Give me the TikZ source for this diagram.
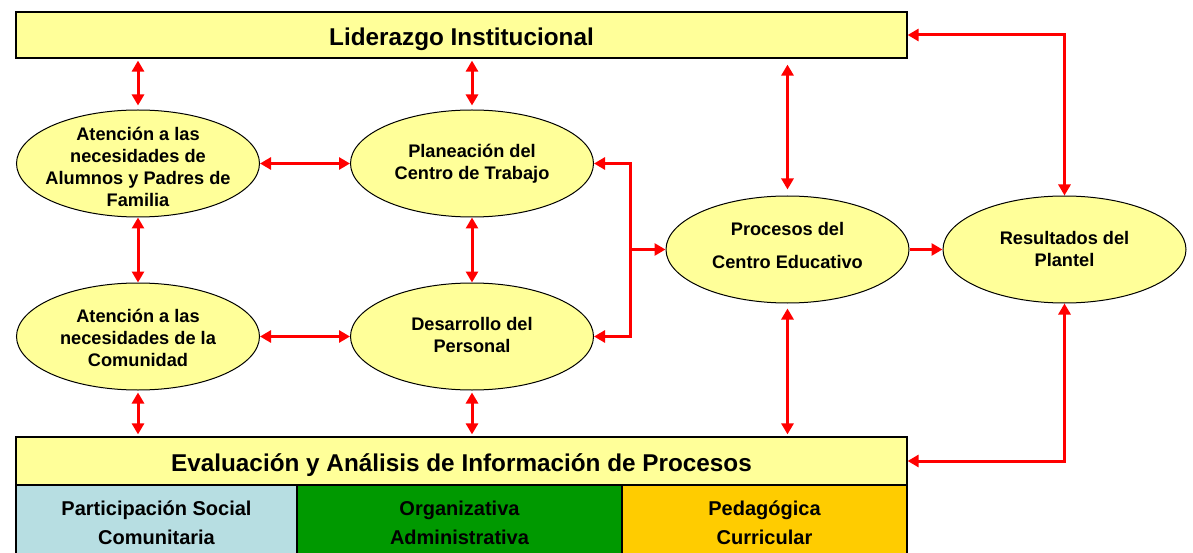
\documentclass[tikz,border=0pt]{standalone}
\usepackage{fontspec}
\setmainfont{Liberation Sans}
\usetikzlibrary{arrows.meta,shapes.geometric}
\definecolor{ylw}{HTML}{FFFF99}
\definecolor{lblue}{HTML}{B7DEE2}
\definecolor{dgreen}{HTML}{009900}
\definecolor{orng}{HTML}{FFCC00}
\definecolor{rd}{HTML}{FF0000}
\tikzset{
  bigbox/.style={draw=black, line width=1.2pt, fill=ylw, inner sep=0pt, font=\fontsize{24.3}{28}\selectfont\bfseries},
  bigtext/.style={inner sep=0pt, text depth=0pt, font=\fontsize{24.3}{28}\selectfont\bfseries},
  subbox/.style={draw=black, line width=1.2pt, inner sep=0pt, minimum height=71pt},
  subtext/.style={inner sep=0pt, align=center, font=\fontsize{20}{29}\selectfont\bfseries},
  oval/.style={ellipse, draw=black, line width=1pt, fill=ylw, inner sep=0pt, minimum width=243pt, minimum height=107pt},
  ovaltext/.style={inner sep=0pt, align=center, font=\fontsize{18.2}{22}\selectfont\bfseries},
  arr/.style={draw=rd, line width=3pt, -{Triangle[length=11pt,width=12pt]}},
  darr/.style={draw=rd, line width=3pt, {Triangle[length=11pt,width=12pt]}-{Triangle[length=11pt,width=12pt]}},
}
\begin{document}
\begin{tikzpicture}[x=1pt,y=-1pt]
\useasboundingbox (0,0) rectangle (1193,553);
% top and bottom boxes
\node[bigbox, minimum width=891pt, minimum height=46pt] (lid) at (461.5,35) {};
\node[bigtext] (lidt) at (461.5,37) {Liderazgo Institucional};
\node[bigbox, minimum width=891pt, minimum height=48pt] (eval) at (461.5,461) {};
\node[bigtext] (evalt) at (461.5,463) {Evaluación y Análisis de Información de Procesos};
\node[subbox, fill=lblue, minimum width=281pt] (s1) at (156.5,520.5) {};
\node[subbox, fill=dgreen, minimum width=325pt] (s2) at (459.5,520.5) {};
\node[subbox, fill=orng, minimum width=285pt] (s3) at (764.5,520.5) {};
\node[subtext] (s1t) at (156.5,522.5) {Participación Social\\Comunitaria};
\node[subtext] (s2t) at (459.5,522.5) {Organizativa\\Administrativa};
\node[subtext] (s3t) at (764.5,522.5) {Pedagógica\\Curricular};
% ellipses
\node[oval] (a1) at (138,163.5) {};
\node[ovaltext] (a1t) at (138,166.5) {Atención a las\\necesidades de\\Alumnos y Padres de\\Familia};
\node[oval] (p) at (472,163.5) {};
\node[ovaltext] (pt) at (472,163.5) {Planeación del\\Centro de Trabajo};
\node[oval] (a2) at (138,336.5) {};
\node[ovaltext] (a2t) at (138,337.5) {Atención a las\\necesidades de la\\Comunidad};
\node[oval] (d) at (472,336.5) {};
\node[ovaltext] (dt) at (472,335) {Desarrollo del\\Personal};
\node[oval] (proc) at (787.5,249.5) {};
\node[ovaltext, font=\fontsize{18.2}{33}\selectfont\bfseries] (proct) at (787.5,245.5) {Procesos del\\Centro Educativo};
\node[oval] (res) at (1064.5,249.5) {};
\node[ovaltext] (rest) at (1064.5,248.5) {Resultados del\\Plantel};
% connectors
\draw[darr, shorten <=2pt, shorten >=4pt] (lid.south -| a1) -- (a1.north);
\draw[darr, shorten <=2pt, shorten >=4pt] (lid.south -| p) -- (p.north);
\draw[darr, shorten <=6pt, shorten >=6pt] (lid.south -| proc) -- (proc.north);
\draw[darr] (lid.east) -| (res.north);
\draw[darr] (a1.east) -- (p.west);
\draw[darr] (a2.east) -- (d.west);
\draw[darr] (a1.south) -- (a2.north);
\draw[darr] (p.south) -- (d.north);
\draw[darr, shorten <=2pt, shorten >=2pt] (a2.south) -- (eval.north -| a2);
\draw[darr, shorten <=2pt, shorten >=2pt] (d.south) -- (eval.north -| d);
\draw[darr, shorten <=5pt, shorten >=2pt] (proc.south) -- (eval.north -| proc);
\draw[darr] (res.south) |- (eval.east);
\coordinate (j) at (630,249.5);
\draw[arr] (j) |- (p.east);
\draw[arr] (j) |- (d.east);
\draw[arr] (j) -- (proc.west);
\draw[arr] (proc.east) -- (res.west);
\end{tikzpicture}
\end{document}
